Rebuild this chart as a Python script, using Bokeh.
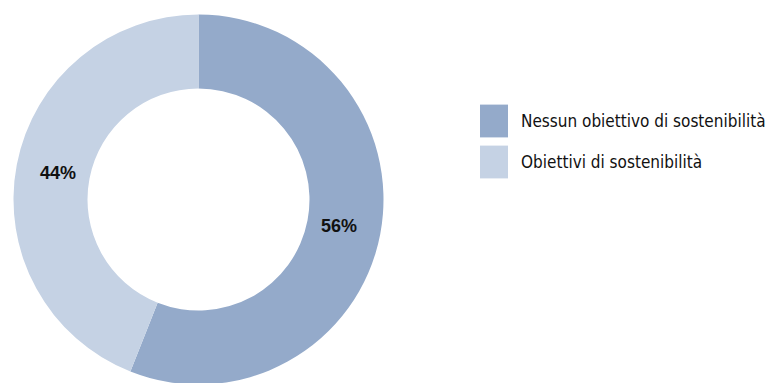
import math
from bokeh.plotting import figure
from bokeh.models import ColumnDataSource, Range1d, Legend, LegendItem
from bokeh.core.properties import value
from bokeh.embed import file_html
from bokeh.resources import INLINE

# ---- data ----
categories = ["Nessun obiettivo di sostenibilità", "Obiettivi di sostenibilità"]
shares = [56, 44]
labels = ["56%", "44%"]
colors = ["#94AACA", "#C5D2E4"]

# ---- geometry (screen-pixel units) ----
W, H = 772, 383
CX, CY = 198, 199          # donut centre in pixels from top-left
R_OUT, R_IN = 185, 111
R_LABEL = 143

total = sum(shares)
starts, ends, lx, ly = [], [], [], []
acc = 0.0
for s in shares:
    a0 = acc / total * 2 * math.pi           # clockwise from 12 o'clock
    a1 = (acc + s) / total * 2 * math.pi
    starts.append(math.pi / 2 - a0)
    ends.append(math.pi / 2 - a1)
    mid = (a0 + a1) / 2
    lx.append(R_LABEL * math.sin(mid))
    ly.append(R_LABEL * math.cos(mid))
    acc += s

src = ColumnDataSource(dict(cat=categories, start=starts, end=ends,
                            color=colors, lx=lx, ly=ly, lab=labels))

p = figure(width=W, height=H, output_backend="svg", toolbar_location=None,
           x_range=Range1d(-CX, W - CX), y_range=Range1d(-(H - CY), CY),
           min_border=0)
p.axis.visible = False
p.grid.visible = False
p.outline_line_color = None
p.background_fill_color = "white"

r = p.annular_wedge(x=0, y=0, inner_radius=R_IN, outer_radius=R_OUT,
                    start_angle="start", end_angle="end", direction="clock",
                    fill_color="color", line_color=None, source=src)

p.text(x="lx", y="ly", text="lab", source=src, text_align="center",
       text_baseline="middle", text_font=value("Liberation Sans"),
       text_font_style="bold", text_font_size="18px", text_color="#111111")

legend = Legend(items=[LegendItem(label=categories[i], renderers=[r], index=i)
                       for i in range(len(categories))],
                location=(476, 201), glyph_width=35, glyph_height=41,
                spacing=0, padding=0, margin=0, label_standoff=10,
                label_text_font="DejaVu Sans Condensed, Roboto Condensed, Roboto, sans-serif",
                label_text_font_size="17px", label_text_color="#111111",
                border_line_alpha=0, background_fill_alpha=0)
p.add_layout(legend)

open("out.html", "w").write(file_html(p, INLINE))
